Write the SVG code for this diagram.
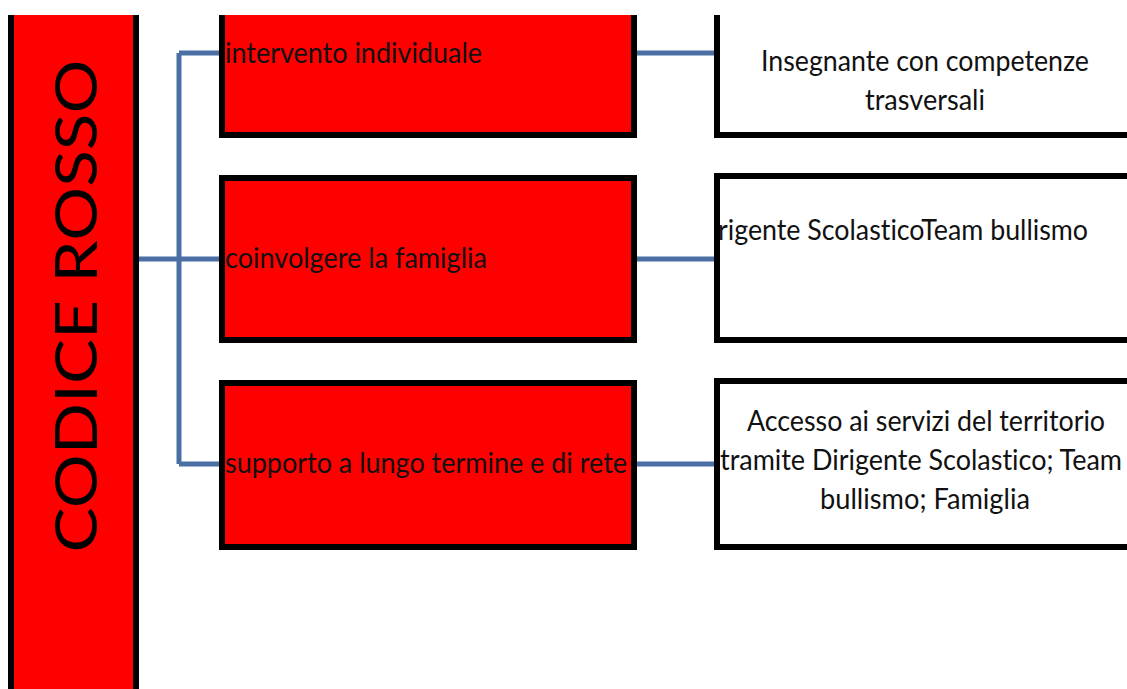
<svg xmlns="http://www.w3.org/2000/svg" width="1127" height="689" viewBox="0 0 1127 689">
<defs>
<style>
.red{fill:#ff0000;stroke:#000;stroke-width:6}
.white{fill:#fff;stroke:#000;stroke-width:6}
.conn{stroke:#4a6fa5;stroke-width:5;fill:none}
.t{font-family:Lato,"Open Sans","Liberation Sans",sans-serif;font-size:28px;fill:#111;font-variant-ligatures:none}
.tc{text-anchor:middle}
.big{font-family:Lato,"Open Sans","Liberation Sans",sans-serif;font-size:58px;fill:#000;text-anchor:middle}
</style>
<clipPath id="page"><rect x="0" y="15" width="1127" height="674"/></clipPath>
</defs>
<rect width="1127" height="689" fill="#fff"/>
<g clip-path="url(#page)">
<g id="connectors">
<path class="conn" d="M139 259H222M179 53V464M179 53H222M179 464H222"/>
<path class="conn" d="M636 53H717M636 259H717M636 464H717"/>
</g>
<g id="codice-rosso">
<rect class="red" x="11" y="-10" width="125" height="720"/>
<text class="big" transform="translate(97,306) rotate(-90)" textLength="493" lengthAdjust="spacingAndGlyphs">CODICE ROSSO</text>
</g>
<g id="intervento">
<rect class="red" x="222" y="-10" width="412" height="145"/>
<text class="t" x="225" y="63" textLength="257" lengthAdjust="spacingAndGlyphs">intervento individuale</text>
</g>
<g id="famiglia">
<rect class="red" x="222" y="178" width="412" height="162"/>
<text class="t" x="225" y="268" textLength="262" lengthAdjust="spacingAndGlyphs">coinvolgere la famiglia</text>
</g>
<g id="supporto">
<rect class="red" x="222" y="383" width="412" height="164"/>
<text class="t" x="225" y="473" textLength="402" lengthAdjust="spacingAndGlyphs">supporto a lungo termine e di rete</text>
</g>
<g id="insegnante">
<rect class="white" x="717" y="-10" width="440" height="145"/>
<text class="t tc" x="925" y="71" textLength="328" lengthAdjust="spacingAndGlyphs">Insegnante con competenze</text>
<text class="t tc" x="925" y="110" textLength="120" lengthAdjust="spacingAndGlyphs">trasversali</text>
</g>
<g id="dirigente">
<rect class="white" x="717" y="176" width="440" height="164"/>
<text class="t" x="718" y="240" textLength="370" lengthAdjust="spacingAndGlyphs">rigente ScolasticoTeam bullismo</text>
</g>
<g id="accesso">
<rect class="white" x="717" y="381" width="440" height="166"/>
<text class="t tc" x="926" y="431" textLength="358" lengthAdjust="spacingAndGlyphs">Accesso ai servizi del territorio</text>
<text class="t tc" x="921" y="470" textLength="402" lengthAdjust="spacingAndGlyphs">tramite Dirigente Scolastico; Team</text>
<text class="t tc" x="925" y="509" textLength="210" lengthAdjust="spacingAndGlyphs">bullismo; Famiglia</text>
</g>
</g>
</svg>
